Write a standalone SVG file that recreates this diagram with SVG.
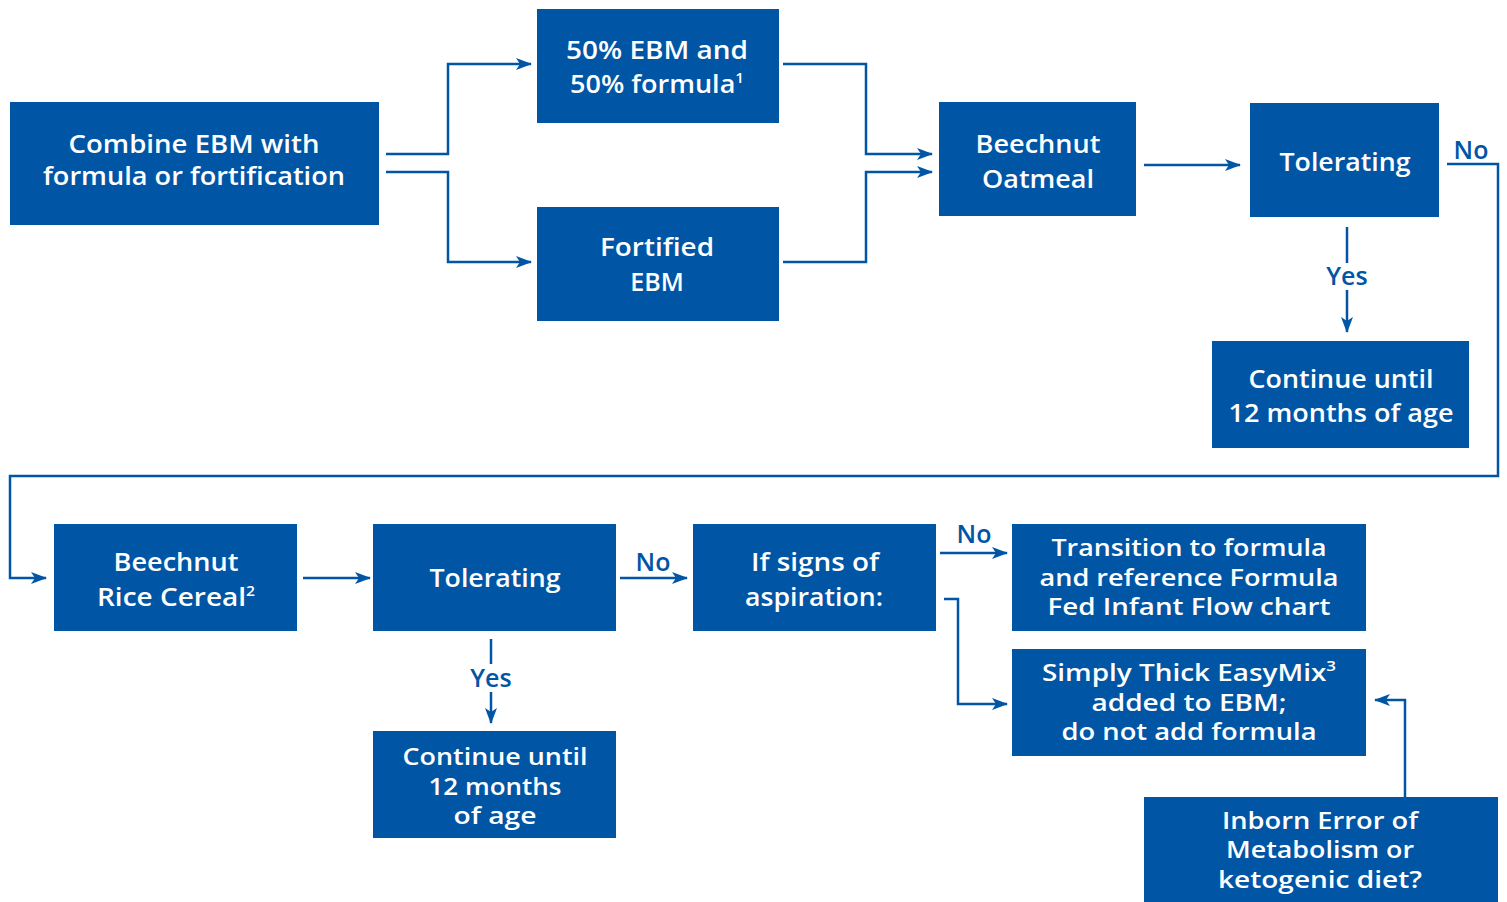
<svg xmlns="http://www.w3.org/2000/svg" width="1507" height="902" viewBox="0 0 1507 902">
<defs>
<style>
.box{fill:#0055A5}
.t{fill:#fff;font-family:"Open Sans","Liberation Sans",sans-serif;font-weight:600;font-size:25px;text-anchor:middle}
.c{fill:#fff;font-family:"Open Sans","Liberation Sans",sans-serif;font-weight:600;font-size:25px;text-anchor:middle}
.c3{fill:#fff;font-family:"Open Sans","Liberation Sans",sans-serif;font-weight:600;font-size:23px;text-anchor:middle}
.lbl{fill:#0055A5;font-family:"Open Sans","Liberation Sans",sans-serif;font-weight:600;font-size:25px;text-anchor:middle}
.ln{fill:none;stroke:#0055A5;stroke-width:2.5}
.sup{font-size:14px}
</style>
<marker id="ah" viewBox="0 0 16 12" refX="15" refY="6" markerWidth="16" markerHeight="12" markerUnits="userSpaceOnUse" orient="auto">
<path d="M0,0 L16,6 L0,12 L4,6 Z" fill="#0055A5"/>
</marker>
</defs>

<g id="connectors">
<polyline class="ln" points="386,154 448,154 448,64 531,64" marker-end="url(#ah)"/>
<polyline class="ln" points="386,172 448,172 448,262 531,262" marker-end="url(#ah)"/>
<polyline class="ln" points="783,64 866,64 866,154 932,154" marker-end="url(#ah)"/>
<polyline class="ln" points="783,262 866,262 866,172 932,172" marker-end="url(#ah)"/>
<polyline class="ln" points="1144,165 1240,165" marker-end="url(#ah)"/>
<polyline class="ln" points="1447,164 1498,164 1498,476 10,476 10,578 46,578" marker-end="url(#ah)"/>
<polyline class="ln" points="1347,227 1347,263"/>
<polyline class="ln" points="1347,290 1347,332" marker-end="url(#ah)"/>
<polyline class="ln" points="303,578 370,578" marker-end="url(#ah)"/>
<polyline class="ln" points="620,578 687,578" marker-end="url(#ah)"/>
<polyline class="ln" points="940,553 1007,553" marker-end="url(#ah)"/>
<polyline class="ln" points="944,599 958,599 958,704 1007,704" marker-end="url(#ah)"/>
<polyline class="ln" points="491,639 491,664"/>
<polyline class="ln" points="491,692 491,723" marker-end="url(#ah)"/>
<polyline class="ln" points="1405,797 1405,700 1375,700" marker-end="url(#ah)"/>
<text class="lbl" x="1471" y="159">No</text>
<text class="lbl" x="1347" y="285">Yes</text>
<text class="lbl" x="653" y="571">No</text>
<text class="lbl" x="974" y="543">No</text>
<text class="lbl" x="491" y="687">Yes</text>
</g>

<g id="combine">
<rect class="box" x="10" y="102" width="369" height="123"/>
<text class="t" x="194" y="153" textLength="251" lengthAdjust="spacingAndGlyphs">Combine EBM with</text>
<text class="t" x="194" y="185" textLength="302" lengthAdjust="spacingAndGlyphs">formula or fortification</text>
</g>
<g id="fifty">
<rect class="box" x="537" y="9" width="242" height="114"/>
<text class="t" x="657" y="59" textLength="182" lengthAdjust="spacingAndGlyphs">50% EBM and</text>
<text class="t" x="657" y="93" textLength="174" lengthAdjust="spacingAndGlyphs">50% formula<tspan class="sup" dy="-10">1</tspan></text>
</g>
<g id="fortified">
<rect class="box" x="537" y="207" width="242" height="114"/>
<text class="t" x="657" y="256" textLength="114" lengthAdjust="spacingAndGlyphs">Fortified</text>
<text class="t" x="657" y="291">EBM</text>
</g>
<g id="oatmeal">
<rect class="box" x="939" y="102" width="197" height="114"/>
<text class="t" x="1038" y="153" textLength="125" lengthAdjust="spacingAndGlyphs">Beechnut</text>
<text class="t" x="1038" y="188" textLength="112" lengthAdjust="spacingAndGlyphs">Oatmeal</text>
</g>
<g id="tolerating1">
<rect class="box" x="1250" y="103" width="189" height="114"/>
<text class="t" x="1345" y="171" textLength="131" lengthAdjust="spacingAndGlyphs">Tolerating</text>
</g>
<g id="continue1">
<rect class="box" x="1212" y="341" width="257" height="107"/>
<text class="t" x="1341" y="388" textLength="185" lengthAdjust="spacingAndGlyphs">Continue until</text>
<text class="t" x="1341" y="422" textLength="225" lengthAdjust="spacingAndGlyphs">12 months of age</text>
</g>
<g id="rice">
<rect class="box" x="54" y="524" width="243" height="107"/>
<text class="t" x="176" y="571" textLength="125" lengthAdjust="spacingAndGlyphs">Beechnut</text>
<text class="t" x="176" y="606" textLength="158" lengthAdjust="spacingAndGlyphs">Rice Cereal<tspan class="sup" dy="-10">2</tspan></text>
</g>
<g id="tolerating2">
<rect class="box" x="373" y="524" width="243" height="107"/>
<text class="t" x="495" y="587" textLength="131" lengthAdjust="spacingAndGlyphs">Tolerating</text>
</g>
<g id="continue2">
<rect class="box" x="373" y="731" width="243" height="107"/>
<text class="c3" x="495" y="765" textLength="185" lengthAdjust="spacingAndGlyphs">Continue until</text>
<text class="c3" x="495" y="795" textLength="133" lengthAdjust="spacingAndGlyphs">12 months</text>
<text class="c3" x="495" y="824" textLength="83" lengthAdjust="spacingAndGlyphs">of age</text>
</g>
<g id="aspiration">
<rect class="box" x="693" y="524" width="243" height="107"/>
<text class="c" x="815" y="571" textLength="128" lengthAdjust="spacingAndGlyphs">If signs of</text>
<text class="c" x="814" y="606" textLength="138" lengthAdjust="spacingAndGlyphs">aspiration:</text>
</g>
<g id="transition">
<rect class="box" x="1012" y="524" width="354" height="107"/>
<text class="c3" x="1189" y="556" textLength="275" lengthAdjust="spacingAndGlyphs">Transition to formula</text>
<text class="c3" x="1189" y="586" textLength="299" lengthAdjust="spacingAndGlyphs">and reference Formula</text>
<text class="c3" x="1189" y="615" textLength="283" lengthAdjust="spacingAndGlyphs">Fed Infant Flow chart</text>
</g>
<g id="simplythick">
<rect class="box" x="1012" y="649" width="354" height="107"/>
<text class="c3" x="1189" y="681" textLength="294" lengthAdjust="spacingAndGlyphs">Simply Thick EasyMix<tspan class="sup" dy="-10">3</tspan></text>
<text class="c3" x="1189" y="711" textLength="195" lengthAdjust="spacingAndGlyphs">added to EBM;</text>
<text class="c3" x="1189" y="740" textLength="255" lengthAdjust="spacingAndGlyphs">do not add formula</text>
</g>
<g id="inborn">
<rect class="box" x="1144" y="797" width="354" height="105"/>
<text class="c3" x="1320" y="829" textLength="196" lengthAdjust="spacingAndGlyphs">Inborn Error of</text>
<text class="c3" x="1320" y="858" textLength="188" lengthAdjust="spacingAndGlyphs">Metabolism or</text>
<text class="c3" x="1320" y="888" textLength="204" lengthAdjust="spacingAndGlyphs">ketogenic diet?</text>
</g>
</svg>
